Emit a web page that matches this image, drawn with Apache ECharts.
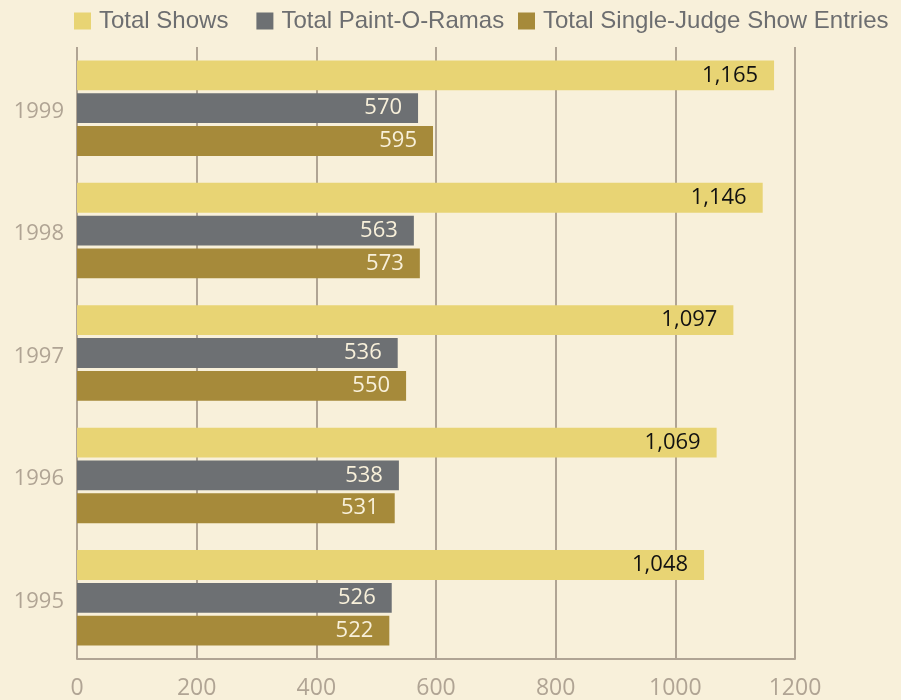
<!DOCTYPE html>
<html><head><meta charset="utf-8">
<script src="https://cdn.jsdelivr.net/npm/echarts@6/dist/echarts.min.js"></script>
<style>html,body{margin:0;padding:0;background:#f8f0da;}#c{width:901px;height:700px;}</style>
</head><body><div id="c"></div>
<script>
const years = ['1999','1998','1997','1996','1995'];
const totalShows = [1165, 1146, 1097, 1069, 1048];
const paintORamas = [570, 563, 536, 538, 526];
const singleJudge = [595, 573, 550, 531, 522];
const xTicks = [0, 200, 400, 600, 800, 1000, 1200];
const seriesNames = ['Total Shows','Total Paint-O-Ramas','Total Single-Judge Show Entries'];

const font = 'Open Sans';
const chart = echarts.init(document.getElementById('c'));
function lbl(color){
  return {show:true, position:'insideRight', distance:16, color:color, fontSize:22, fontFamily:font,
    formatter:p=>p.value.toLocaleString('en-US')};
}
const legendBase = {top:9, padding:0, icon:'rect', itemWidth:17, itemHeight:17, itemGap:28, width:880,
    textStyle:{fontSize:24, color:'#6d6e70', fontFamily:'Liberation Sans', padding:[0,0,0,3]}};
chart.setOption({
  backgroundColor:'#f8f0da',
  animation:false,
  legend:[
    Object.assign({}, legendBase, {left:74, data:seriesNames.slice(0,2)}),
    Object.assign({}, legendBase, {left:518, data:seriesNames.slice(2)})
  ],
  grid:{left:77, right:106, top:47, bottom:41},
  xAxis:{type:'value', min:xTicks[0], max:xTicks[xTicks.length-1], interval:200,
    axisLine:{show:true, lineStyle:{color:'#b0a494', width:2}},
    axisTick:{show:false},
    splitLine:{show:true, lineStyle:{color:'#b0a494', width:2}},
    axisLabel:{color:'#b0a494', fontSize:23, fontFamily:font, margin:18, formatter:v=>String(v)}},
  yAxis:{type:'category', data:years, inverse:true,
    axisLine:{show:false}, axisTick:{show:false},
    axisLabel:{color:'#b0a494', fontFamily:font, margin:13,
      formatter:v=>'{a|'+v+'}',
      rich:{a:{fontSize:22, fontFamily:font, color:'#b0a494', padding:[7,0,0,0]}}}},
  series:[
    {name:seriesNames[0], type:'bar', data:totalShows, itemStyle:{color:'#e8d474'}, barCategoryGap:'22%', barGap:'10%', label:lbl('#111111')},
    {name:seriesNames[1], type:'bar', data:paintORamas, itemStyle:{color:'#6d7073'}, label:lbl('#f8f0da')},
    {name:seriesNames[2], type:'bar', data:singleJudge, itemStyle:{color:'#a68a3a'}, label:lbl('#f8f0da')}
  ]
});
</script></body></html>
